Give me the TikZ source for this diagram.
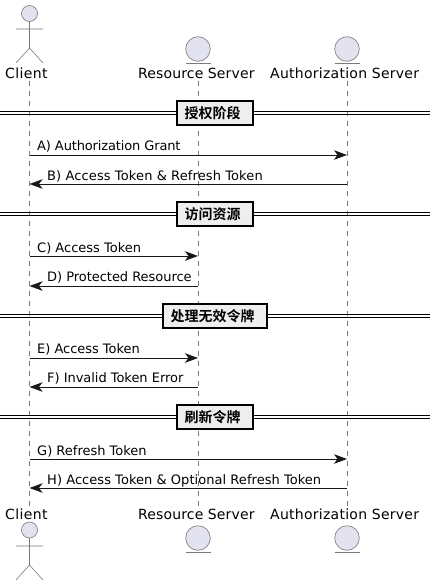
\documentclass[tikz,border=0pt]{standalone}
\usepackage{fontspec}
\setmainfont{DejaVu Sans}
\newfontfamily\cjk{Noto Sans CJK SC}[BoldFont={Noto Sans CJK SC Bold}]
\usetikzlibrary{arrows.meta}
\definecolor{partfill}{HTML}{E2E2F0}
\definecolor{partline}{HTML}{7A7A7A}
\definecolor{ink}{HTML}{181818}
\definecolor{divfill}{HTML}{EEEEEE}
\tikzset{
  x=1pt,y=-1pt,
  partbody/.style={draw=partline,fill=partfill,line width=.6pt},
  partstroke/.style={draw=partline,line width=.6pt},
  lifeline/.style={draw=partline,line width=.6pt,dash pattern=on 5pt off 5pt},
  partname/.style={anchor=base west,inner sep=0pt,font=\fontsize{14}{14}\selectfont\addfontfeature{LetterSpace=#1},text=black},
  partname/.default=0,
  msg/.style={draw=ink,line width=.9pt,-{Stealth[length=13pt,width=9.5pt,inset=3.5pt]}},
  msgtext/.style={anchor=base west,inner sep=0pt,font=\fontsize{13}{13}\selectfont\addfontfeature{LetterSpace=#1},text=black},
  msgtext/.default=0,
  divbox/.style={draw=black,line width=1.8pt,fill=divfill,minimum height=24pt,inner sep=0pt,font=\cjk\bfseries\fontsize{14}{14}\selectfont},
  divline/.style={draw=black,line width=.9pt},
}
\begin{document}
\begin{tikzpicture}
\useasboundingbox (0,0) rectangle (436,586);
\coordinate (ct) at (29.5,81); \coordinate (cbot) at (29.5,507);
\coordinate (rt) at (198,81); \coordinate (rbot) at (198,507);
\coordinate (at) at (347.5,81); \coordinate (abot) at (347.5,507);
\draw[lifeline] (ct) -- (cbot);
\draw[lifeline] (rt) -- (rbot);
\draw[lifeline] (at) -- (abot);
% top participants
\node[partname=2.8] (client top) at (5,78) {Client};
\node[partname=1] (rs top) at (138,78) {Resource Server};
\node[partname=1.9] (as top) at (270,78) {Authorization Server};
\draw[partbody] (29.5,13.5) circle (8);
\draw[partstroke] (29.5,21.5) -- (29.5,48) (16,29) -- (43,29) (16,63) -- (29.5,48) -- (43,63);
\draw[partbody] (198,49) circle (12.3);
\draw[partstroke] (186,63) -- (211,63);
\draw[partbody] (347,49) circle (12.3);
\draw[partstroke] (335,63) -- (360,63);
% bottom participants
\node[partname=2.8] (client bot) at (5,519) {Client};
\node[partname=1] (rs bot) at (138,519) {Resource Server};
\node[partname=1.9] (as bot) at (270,519) {Authorization Server};
\draw[partbody] (29.5,530) circle (8);
\draw[partstroke] (29.5,538) -- (29.5,565) (16,546) -- (43,546) (16,580) -- (29.5,565) -- (43,580);
\draw[partbody] (198,538) circle (12.3);
\draw[partstroke] (186,552) -- (211,552);
\draw[partbody] (347,538) circle (12.3);
\draw[partstroke] (335,552) -- (360,552);
% dividers
\foreach \yy/\xa/\xb/\lab/\nm in {113/177/253/授权阶段/d1,214/177/253/访问资源/d2,316/163/267/处理无效令牌/d3,417/177/253/刷新令牌/d4}{
  \draw[divline] (0,\yy-1.6) -- (430,\yy-1.6) (0,\yy+1.6) -- (430,\yy+1.6);
  \node[divbox,minimum width=\xb-\xa] (\nm) at ({(\xa+\xb)/2},\yy) {\lab\hspace*{5pt}};
}
% messages
\foreach \yy/\n in {155/a,184/b,256/c,286/d,358/e,387/f,459/g,488/h}{
  \coordinate (c\n) at (29.5,\yy);
  \coordinate (r\n) at (198,\yy);
  \coordinate (s\n) at (347,\yy);
}
\draw[msg] (ca) -- (sa);
\draw[msg] (sb) -- (cb);
\draw[msg] (cc) -- (rc);
\draw[msg] (rd) -- (cd);
\draw[msg] (ce) -- (re);
\draw[msg] (rf) -- (cf);
\draw[msg] (cg) -- (sg);
\draw[msg] (sh) -- (ch);
\node[msgtext=-1.1] (la) at (37,150) {A) Authorization Grant};
\node[msgtext=1] (lb) at (47,180) {B) Access Token \& Refresh Token};
\node[msgtext] (lc) at (37,252) {C) Access Token};
\node[msgtext=-.3] (ld) at (47,281) {D) Protected Resource};
\node[msgtext=-.3] (le) at (37,353) {E) Access Token};
\node[msgtext=-.3] (lf) at (47,382) {F) Invalid Token Error};
\node[msgtext] (lg) at (37,455) {G) Refresh Token};
\node[msgtext=.4] (lh) at (47,484) {H) Access Token \& Optional Refresh Token};
\end{tikzpicture}
\end{document}
